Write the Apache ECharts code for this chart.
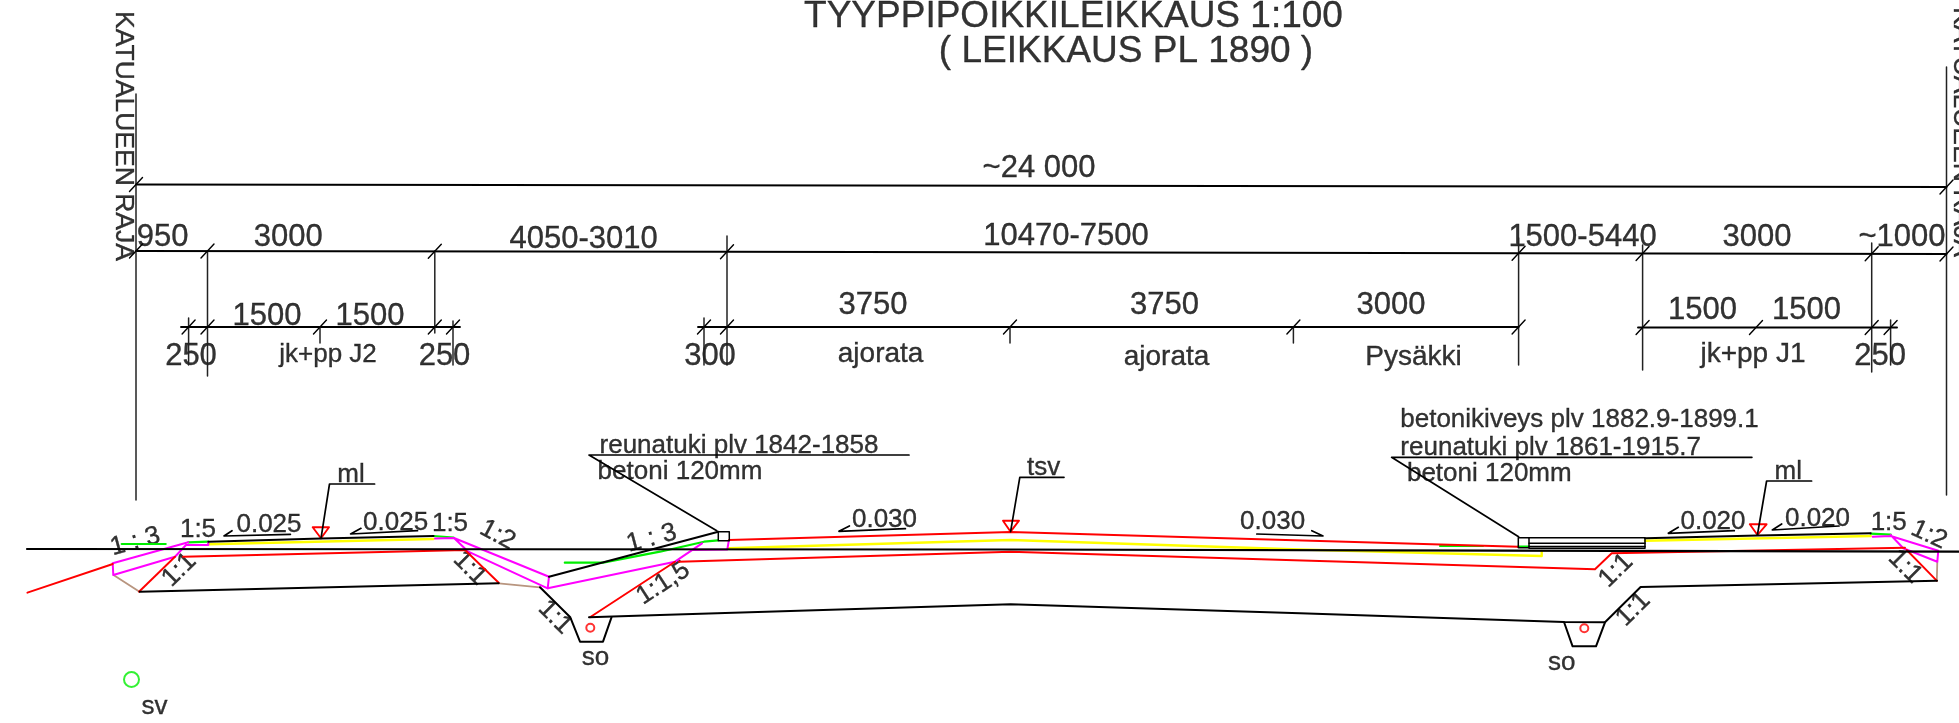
<!DOCTYPE html>
<html>
<head>
<meta charset="utf-8">
<title>Tyyppipoikkileikkaus</title>
<script src="https://cdn.jsdelivr.net/npm/echarts@6/dist/echarts.min.js"></script>
<style>
  html, body { margin: 0; padding: 0; background: #fff; }
  #chart { width: 1959px; height: 723px; }
</style>
</head>
<body>
<div id="chart"></div>
<script>
// drawing space = reference pixels, all polylines go through the value axes

// road profile, black
const groundLine = [[27, 549], [1000, 549.5], [1500, 550.7], [1959, 551.7]];
const subgradeLeft = [[139.7, 591.7], [498.7, 583.3]];
const ditchLeft = [[540, 587.3], [570.3, 617.3], [580, 641.7], [603, 641.7], [611.5, 617.3]];
const subgradeMain = [[589, 617.3], [660, 615], [1010.6, 604.3], [1300, 613.3], [1564, 622], [1605, 622.3]];
const ditchRight = [[1564, 622], [1572.6, 646.3], [1596, 646.3], [1605, 622.3], [1640.6, 587], [1937, 580.8]];
const surfaceLeft = [[208.3, 541.7], [321, 538.6], [433.5, 536]];
const slopeToCurb = [[549, 576.7], [718.3, 531.7]];
const surfaceRight = [[1645, 538.3], [1757.5, 535.6], [1870.7, 533.3]];
const curbLeft = [[718.3, 531.7], [729.3, 531.7], [729.3, 540.7], [718.3, 540.7], [718.3, 531.7]];
const curbRight = [[1518.3, 537.7], [1529, 537.7], [1529, 547.7], [1518.3, 547.7], [1518.3, 537.7]];
const pavingTop = [[1529, 537.7], [1645, 537.7], [1645, 548.3], [1529, 548.3]];
const pavingInner = [[1529, 543.3], [1645, 543.3]];
const pavingLow = [[1529, 546.6], [1645, 546.6]];

// leaders and slope arrows
const leaderMlLeft = [[374.6, 484], [329.5, 484], [321, 538.3]];
const leaderTsv = [[1064, 477.3], [1019.8, 477.3], [1010.6, 531.7]];
const leaderMlRight = [[1811.6, 481], [1766.6, 481], [1757.4, 535]];
const leaderCurbLeft = [[909, 455], [589, 455], [716.8, 530.7]];
const leaderCurbRight = [[1751.9, 457.3], [1391.6, 457.3], [1518.6, 536.7]];
const arrow025a = [[290.4, 534.3], [224, 536], [232, 530.7]];
const arrow025b = [[417.5, 530.7], [350.6, 534], [361, 528.3]];
const arrow030a = [[905.4, 528.7], [838.9, 531.3], [849.4, 526]];
const arrow030b = [[1256.8, 534], [1323, 536], [1311.8, 530.7]];
const arrow020a = [[1734.3, 530.7], [1668.3, 533.3], [1678.3, 527.3]];
const arrow020b = [[1839, 526], [1772.3, 530], [1781.7, 524]];

// dimension lines and witness lines
const dimTotal = [[136, 184.5], [1946.5, 187]];
const dimMain = [[136, 251], [727, 251.7], [1518.6, 253.2], [1946.5, 254]];
const dimLowLeft = [[181, 327], [460, 327]];
const dimLowMid = [[698, 327], [1518.6, 327]];
const dimLowRight = [[1638, 327.5], [1897, 327.5]];
const borderLeft = [[136, 94], [136, 500]];
const borderRight = [[1946.5, 67], [1946.5, 495]];
const witnessLines = [
  [[207.5, 251], [207.5, 376]],
  [[434.8, 251], [434.8, 333]],
  [[188.6, 318], [188.6, 365]],
  [[453, 321], [453, 365]],
  [[320, 327], [320, 343]],
  [[704, 318], [704, 365]],
  [[727, 236], [727, 365]],
  [[1010, 327], [1010, 343]],
  [[1293.4, 327], [1293.4, 343]],
  [[1518.6, 238], [1518.6, 365]],
  [[1642.6, 245], [1642.6, 370]],
  [[1871.7, 243], [1871.7, 372]],
  [[1890.6, 320], [1890.6, 365]]
];

// tick slashes on the dimension lines, [x, y]
const dimTicks = [
  [136, 184.5], [1946.5, 187],
  [136, 251], [207.5, 251], [434.8, 251.3], [727, 251.7], [1518.6, 253.2], [1642.6, 253.4], [1871.7, 253.8], [1946.5, 254],
  [188.6, 327], [207.5, 327], [320, 327], [434.8, 327], [453, 327],
  [704, 327], [727, 327], [1010, 327], [1293.4, 327], [1518.6, 327],
  [1642.6, 327.5], [1756, 327.5], [1871.7, 327.5], [1890.6, 327.5]
];

// red
const redToeLeft = [[27.4, 592.7], [112.8, 564]];
const redSubLeft = [[139, 591.7], [175, 556.7]];
const redBaseLeft = [[183, 556.7], [465, 550], [498.7, 582.7]];
const redSlopeMid = [[590, 617.3], [675, 561.7]];
const redBaseMain = [[679, 561.7], [1010.6, 551.7], [1595, 569.3], [1611.7, 553.3], [1905, 547.7]];
const redSlopeRight = [[1906.7, 550], [1936.7, 580.7]];
const redRoadTop = [[729, 540], [1010.6, 532], [1320, 541], [1518.3, 546.7]];
const triangleMlLeft = [[312.7, 527.3], [329, 527.3], [321, 538.3], [312.7, 527.3]];
const triangleTsv = [[1003, 520.7], [1019, 520.7], [1010.6, 531.7], [1003, 520.7]];
const triangleMlRight = [[1749.8, 524.3], [1766.6, 524.3], [1757.5, 535], [1749.8, 524.3]];

// yellow
const yellowLeft = [[208.3, 544.3], [433.5, 539]];
const yellowMain = [[728.6, 548.3], [1010.6, 540], [1300, 549.5], [1541.7, 556], [1541.7, 551]];
const yellowRight = [[1645, 540.7], [1870.7, 536]];

// green
const greenStubLeft = [[121.7, 544], [165.7, 544]];
const greenTopLeft = [[188.3, 542.3], [208.3, 541.7]];
const greenTopMid = [[433.5, 536], [453.5, 537.5]];
const greenSlope = [[564.8, 562.7], [603, 562.7], [660, 551.7], [704, 541.7], [718, 540.4]];
const greenPatch = [[1440, 546], [1482.9, 546]];
const greenUnderCurb = [[1518.3, 546.7], [1529, 546.7]];
const greenTopRight = [[1870.7, 533.7], [1890.7, 534.7]];

// magenta
const magentaLeft = [[188.3, 542.3], [112.7, 563.3], [113.3, 575], [175, 556.7], [186, 545], [208.3, 545], [208.3, 542.3]];
const magentaDitch = [[435, 538.5], [454, 538], [549, 576.7], [547.7, 588.3], [468.3, 551.7], [454, 538]];
const magentaMid = [[547.7, 588.3], [675, 561.7], [702, 543.3]];
const magentaCurb = [[691.6, 550], [727.3, 549.5], [728.8, 540.7]];
const magentaRight = [[1872.7, 536.7], [1890.7, 536], [1938.3, 550.7], [1937.3, 561.7], [1903.3, 548.3], [1890.7, 535]];

// tan transitions
const tanLeft = [[113.5, 575], [139.5, 591.7]];
const tanDitch = [[498.7, 583.3], [540, 587.3]];
const tanRight = [[1937.3, 561.7], [1936.8, 580.7]];

// manholes / pipes, [x, y]
const greenPipes = [[131.5, 679.5]];
const redPipes = [[590.3, 627.7], [1584.3, 628.3]];

// texts, [x, y, text]
const titleTexts = [
  [1073.5, 13.8, 'TYYPPIPOIKKILEIKKAUS 1:100'],
  [1126, 48.8, '( LEIKKAUS PL 1890 )']
];
const dimensionTexts = [
  [1039, 166.7, '~24 000'],
  [162.7, 235, '950'], [288.3, 235, '3000'], [583.6, 237, '4050-3010'], [1066, 234, '10470-7500'],
  [1582.5, 235, '1500-5440'], [1757, 235, '3000'], [1902, 235, '~1000'],
  [267, 314, '1500'], [370, 314, '1500'], [191, 354, '250'], [444.5, 354, '250'], [710, 354, '300'],
  [873, 303, '3750'], [1164.5, 303, '3750'], [1391, 303, '3000'],
  [1702.5, 308.7, '1500'], [1806.6, 308.7, '1500'], [1880.2, 354, '250']
];
const laneTexts = [
  [880.6, 352, 'ajorata'], [1166.5, 355, 'ajorata'], [1413.5, 355, 'Pysäkki'], [1753, 352, 'jk+pp J1']
];
const noteTexts = [
  [328, 353, 'jk+pp J2'],
  [739, 443.7, 'reunatuki plv 1842-1858'], [680, 469.7, 'betoni 120mm'],
  [1579.5, 418, 'betonikiveys plv 1882.9-1899.1'], [1550.7, 445.7, 'reunatuki plv 1861-1915.7'],
  [1489.3, 471.7, 'betoni 120mm'],
  [351, 473, 'ml'], [1043.6, 466, 'tsv'], [1788.3, 470, 'ml'],
  [269, 523.3, '0.025'], [395.6, 521, '0.025'], [884.5, 518, '0.030'], [1272.6, 520, '0.030'],
  [1713, 520, '0.020'], [1817.5, 516.7, '0.020'],
  [198, 527.5, '1:5'], [450, 522, '1:5'], [1888.7, 521, '1:5'],
  [595.5, 655.7, 'so'], [1561.7, 660.7, 'so'], [154.5, 704.7, 'sv']
];
// slope marks, [x, y, text, degrees]
const slopeTexts = [
  [135.3, 541.7, '1 : 3', 15], [651.7, 538.3, '1 : 3', 15],
  [497.5, 535, '1:2', -28], [1929, 535, '1:2', -25],
  [179.3, 570, '1:1', 45], [470, 568.3, '1:1', -45], [555, 617.3, '1:1', -45],
  [663.3, 583.3, '1:1,5', 33],
  [1905, 566.7, '1:1', -45], [1616, 570.7, '1:1', 45], [1633.3, 609.3, '1:1', 45]
];
const borderTexts = [
  [123.5, 136, 'KATUALUEEN RAJA'],
  [1961.5, 132, 'KATUALUEEN RAJA']
];

const lineSeries = (points, color, width) => ({
  type: 'line',
  data: points,
  showSymbol: false,
  silent: true,
  clip: false,
  lineStyle: { color, width, cap: 'round', join: 'round' }
});

const textSeries = (rows, size, rotate, dy) => ({
  type: 'scatter',
  symbolSize: 0,
  silent: true,
  clip: false,
  data: rows.map((row) => ({
    value: [row[0], row[1]],
    name: row[2],
    label: { rotate: row.length > 3 ? row[3] : rotate || 0 }
  })),
  label: {
    show: true,
    position: 'inside',
    formatter: '{b}',
    color: '#000',
    textBorderColor: '#000',
    textBorderWidth: 0.35,
    offset: [0, dy || 0],
    fontFamily: '"Liberation Sans", Arial, sans-serif',
    fontSize: size,
    align: 'center',
    verticalAlign: 'middle'
  }
});

const pipeSeries = (points, color, size) => ({
  type: 'scatter',
  data: points,
  symbol: 'circle',
  symbolSize: size,
  silent: true,
  itemStyle: { color: 'transparent', borderColor: color, borderWidth: 2 }
});

const tickLines = dimTicks.map(([x, y]) => [[x - 6.5, y + 7], [x + 6.5, y - 7]]);

const chart = echarts.init(document.getElementById('chart'));
chart.setOption({
  animation: false,
  backgroundColor: '#ffffff',
  grid: { left: 0, right: 0, top: 0, bottom: 0 },
  xAxis: { type: 'value', min: 0, max: 1959, show: false },
  yAxis: { type: 'value', min: 0, max: 723, inverse: true, show: false },
  series: [
    ...[tanLeft, tanDitch, tanRight].map((p) => lineSeries(p, '#b8957f', 1.8)),
    ...[yellowLeft, yellowMain, yellowRight].map((p) => lineSeries(p, '#ffff00', 2.4)),
    ...[greenStubLeft, greenTopLeft, greenTopMid, greenSlope, greenPatch, greenUnderCurb, greenTopRight]
      .map((p) => lineSeries(p, '#00ee00', 2.2)),
    ...[magentaLeft, magentaDitch, magentaMid, magentaCurb, magentaRight].map((p) => lineSeries(p, '#ff00ff', 2)),
    ...[redToeLeft, redSubLeft, redBaseLeft, redSlopeMid, redBaseMain, redSlopeRight, redRoadTop,
      triangleMlLeft, triangleTsv, triangleMlRight].map((p) => lineSeries(p, '#ff0000', 1.9)),
    lineSeries(groundLine, '#000', 2.2),
    ...[subgradeLeft, ditchLeft, subgradeMain, ditchRight, surfaceLeft, slopeToCurb, surfaceRight]
      .map((p) => lineSeries(p, '#000', 2)),
    ...[curbLeft, curbRight, pavingTop, pavingInner, pavingLow].map((p) => lineSeries(p, '#000', 1.5)),
    ...[leaderMlLeft, leaderTsv, leaderMlRight, leaderCurbLeft, leaderCurbRight,
      arrow025a, arrow025b, arrow030a, arrow030b, arrow020a, arrow020b].map((p) => lineSeries(p, '#000', 1.7)),
    ...[dimTotal, dimMain, dimLowLeft, dimLowMid, dimLowRight].map((p) => lineSeries(p, '#000', 1.9)),
    ...[borderLeft, borderRight, ...witnessLines].map((p) => lineSeries(p, '#222', 1.5)),
    ...tickLines.map((p) => lineSeries(p, '#000', 1.4)),
    pipeSeries(greenPipes, '#00ee00', 15),
    pipeSeries(redPipes, '#ff0000', 8),
    textSeries(titleTexts, 37, 0, 3),
    textSeries(dimensionTexts, 31, 0, 2),
    textSeries(laneTexts, 28, 0, 2),
    textSeries(noteTexts, 26, 0, 2),
    textSeries(slopeTexts, 26),
    textSeries(borderTexts, 26.5, -90)
  ]
});
window.addEventListener('resize', () => chart.resize());
</script>
</body>
</html>
